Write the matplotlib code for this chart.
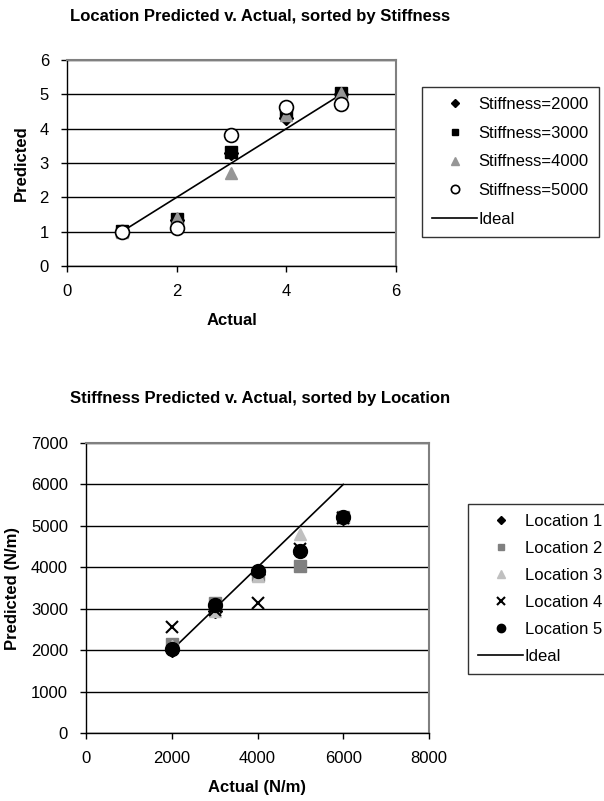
import matplotlib
matplotlib.use("Agg")
import matplotlib.pyplot as plt

plt.rcParams["font.family"] = ["Liberation Sans", "DejaVu Sans"]

# top chart: location predicted v actual, one series per stiffness
loc_actual = [1, 2, 3, 4, 5]
stiff_2000 = [1.0, 1.35, 3.3, 4.3, 5.0]
stiff_3000 = [1.02, 1.38, 3.33, 4.45, 5.03]
stiff_4000 = [1.0, 1.4, 2.7, 4.4, 5.03]
stiff_5000 = [1.0, 1.1, 3.82, 4.63, 4.71]
loc_ideal_x = [1, 5]
loc_ideal_y = [1, 5]

# bottom chart: stiffness predicted v actual, one series per location
stiff_actual = [2000, 3000, 4000, 5000, 6000]
location_1 = [2000, 2950, 3850, 4400, 5200]
location_2 = [2160, 3150, 3820, 4040, 5210]
location_3 = [2100, 2950, 3800, 4800, 5210]
location_4 = [2550, 2960, 3150, 4450, 5200]
location_5 = [2020, 3080, 3920, 4400, 5210]
stiff_ideal_x = [2000, 6000]
stiff_ideal_y = [2000, 6000]

fig = plt.figure(figsize=(6.04, 8.01), dpi=100)


def style_axes(ax):
    ax.yaxis.grid(True, color="black", linewidth=1.0)
    ax.set_axisbelow(True)
    for side in ["top", "right"]:
        ax.spines[side].set_color("#808080")
        ax.spines[side].set_linewidth(1.5)
    for side in ["left", "bottom"]:
        ax.spines[side].set_color("black")
        ax.spines[side].set_linewidth(1.0)
    ax.tick_params(direction="out", length=4, width=1, labelsize=12)
    ax.tick_params(axis="y", pad=9)
    ax.tick_params(axis="x", pad=9)


def add_legend(ax, anchor, spacing):
    h, l = ax.get_legend_handles_labels()
    leg = fig.legend(h[1:] + h[:1], l[1:] + l[:1], loc="upper left",
                     bbox_to_anchor=anchor, borderaxespad=0, fontsize=12,
                     markerscale=0.6, frameon=True, fancybox=False, edgecolor="black",
                     handlelength=2.7, labelspacing=spacing, borderpad=0.6,
                     handletextpad=0.1)
    leg.get_frame().set_linewidth(1.0)


# top chart
ax1 = fig.add_axes([67 / 604, 1 - 266 / 801, 329 / 604, 206 / 801])
ax1.plot(loc_ideal_x, loc_ideal_y, color="black", linewidth=1.2, label="Ideal", zorder=2)
ax1.plot(loc_actual, stiff_2000, "D", color="black", markersize=7, linestyle="none",
         label="Stiffness=2000", zorder=3)
ax1.plot(loc_actual, stiff_3000, "s", color="black", markersize=8, linestyle="none",
         label="Stiffness=3000", zorder=3)
ax1.plot(loc_actual, stiff_4000, "^", color="#969696", markersize=9, linestyle="none",
         label="Stiffness=4000", zorder=3)
ax1.plot(loc_actual, stiff_5000, "o", markerfacecolor="white", markeredgecolor="black",
         markeredgewidth=1.2, markersize=10, linestyle="none", label="Stiffness=5000", zorder=4)
ax1.set_xlim(0, 6)
ax1.set_ylim(0, 6)
ax1.set_xticks([0, 2, 4, 6])
ax1.set_yticks(range(0, 7))
style_axes(ax1)
ax1.set_xlabel("Actual", fontsize=12, fontweight="bold", labelpad=10)
ax1.set_ylabel("Predicted", fontsize=12, fontweight="bold", labelpad=8)
fig.text(260 / 604, 1 - 17 / 801, "Location Predicted v. Actual, sorted by Stiffness",
         ha="center", va="center", fontsize=12, fontweight="bold")
add_legend(ax1, (422 / 604, 1 - 87 / 801), 0.82)

# bottom chart
ax2 = fig.add_axes([86 / 604, 1 - 733 / 801, 343 / 604, 290 / 801])
ax2.plot(stiff_ideal_x, stiff_ideal_y, color="black", linewidth=1.2, label="Ideal", zorder=2)
ax2.plot(stiff_actual, location_1, "D", color="black", markersize=7, linestyle="none",
         label="Location 1", zorder=3)
ax2.plot(stiff_actual, location_2, "s", color="#808080", markersize=8, linestyle="none",
         label="Location 2", zorder=3)
ax2.plot(stiff_actual, location_3, "^", color="#C0C0C0", markersize=9, linestyle="none",
         label="Location 3", zorder=3)
ax2.plot(stiff_actual, location_4, "x", color="black", markersize=9, markeredgewidth=1.5,
         linestyle="none", label="Location 4", zorder=3)
ax2.plot(stiff_actual, location_5, "o", color="black", markersize=10, linestyle="none",
         label="Location 5", zorder=4)
ax2.set_xlim(0, 8000)
ax2.set_ylim(0, 7000)
ax2.set_xticks(range(0, 8001, 2000))
ax2.set_yticks(range(0, 7001, 1000))
style_axes(ax2)
ax2.set_xlabel("Actual (N/m)", fontsize=12, fontweight="bold", labelpad=10)
ax2.set_ylabel("Predicted (N/m)", fontsize=12, fontweight="bold", labelpad=8)
fig.text(260 / 604, 1 - 399 / 801, "Stiffness Predicted v. Actual, sorted by Location",
         ha="center", va="center", fontsize=12, fontweight="bold")
add_legend(ax2, (468 / 604, 1 - 504 / 801), 0.72)

fig.savefig("out.png", dpi=100)
